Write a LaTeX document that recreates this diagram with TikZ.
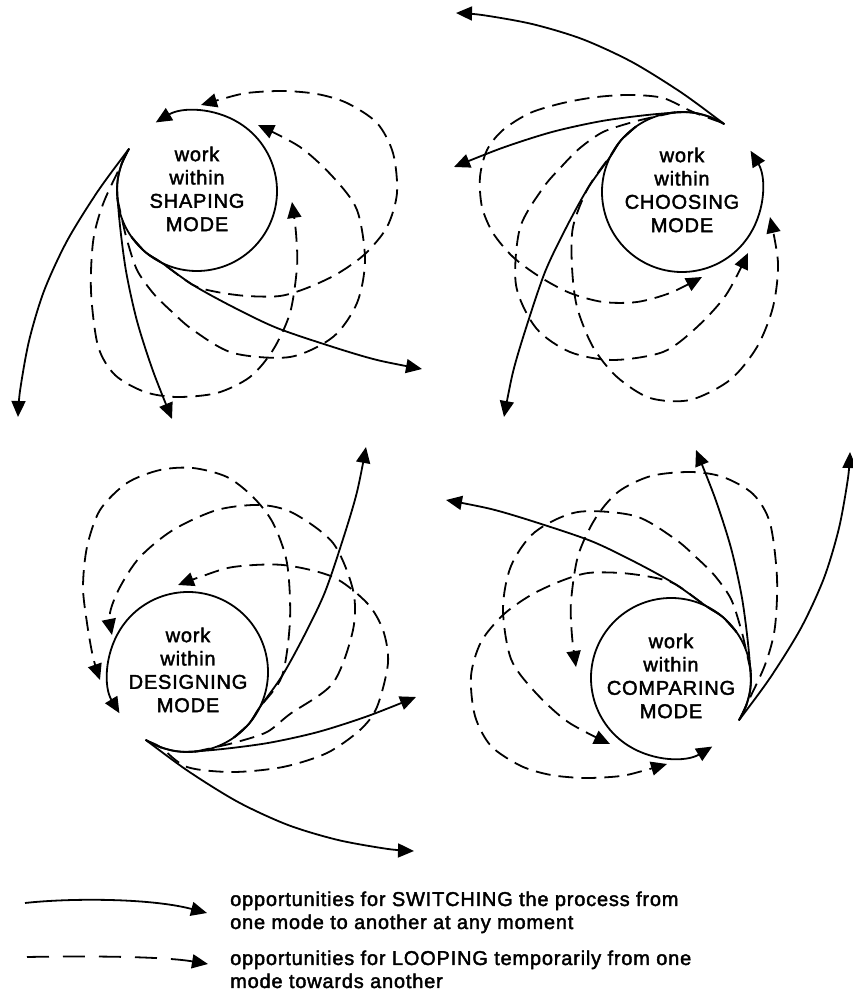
\documentclass[tikz,border=0pt]{standalone}
\usepackage{fontspec}
\setmainfont{Liberation Sans}
\newfontfamily\labfont[LetterSpace=4,FakeBold=2]{Liberation Sans}
\usetikzlibrary{arrows.meta}
\tikzset{
  sw/.style={line width=1.8pt, line join=round, -{Triangle[length=16pt,width=14pt]}},
  lp/.style={sw, dash pattern=on 15pt off 8pt},
  lglp/.style={sw, dash pattern=on 22pt off 14pt},
  modelabel/.style={font={\labfont\fontsize{20}{23.3}\selectfont}, align=center, inner sep=0pt},
  legendtext/.style={font={\labfont\fontsize{20}{23}\selectfont}, anchor=base west, inner sep=0pt},
  screen/.style={shift={(0,1002)}, yscale=-1},
}
% circle and switching connectors, relative to the circle centre
\newcommand\modecore{%
  \draw[sw] (148:80pt) arc[start angle=148, end angle=481, radius=80pt];
  \draw[sw] plot[smooth] coordinates {(-67.8,42.4) (-99,0) (-130,-50) (-153,-100) (-168,-150) (-177,-200) (-179,-226)};
  \draw[sw] plot[smooth] coordinates {(-67.8,42.4) (-75.2,27.4) (-79.7,7) (-77.5,-30) (-71,-80) (-60,-130) (-44,-180) (-25,-228)};
  \draw[sw] plot[smooth] coordinates {(-65.5,-45.9) (-51.4,-61.3) (-35.1,-71.9) (-4,-94) (36,-116) (80,-137) (136,-156) (180,-169) (225,-178)};
}
% looping connectors, relative to the circle centre
\newcommand\loopA{\draw[lp] plot[smooth] coordinates {(-65.5,-45.9) (-51.4,-61.3) (-35.1,-71.9) (-4,-94) (20,-101) (50,-105) (83,-105) (110,-97) (140,-83) (168,-63) (190,-36) (200,-2) (196,38) (180,68) (150,88) (120,97) (86,100) (50,98) (25,92) (4,86)};}
\newcommand\loopB{\draw[lp] plot[smooth] coordinates {(-79.7,-7) (-75.2,-27.4) (-70,-49) (-60,-79) (-44,-102) (-27,-119) (-4,-139) (36,-162) (93,-166) (136,-146) (160,-112) (168,-69) (160,-19) (136,14) (103,44) (61,66)};}
\newcommand\loopC{\draw[lp] plot[smooth] coordinates {(-69.3,40) (-75.2,27.4) (-93.7,-12.3) (-103.7,-49) (-106,-100) (-99,-155) (-82,-184) (-52,-201) (-20,-206) (20,-202) (53,-186) (76,-159) (93,-122) (100,-76) (99,-42) (95,-11)};}
\begin{document}
\begin{tikzpicture}[x=1pt,y=1pt]
\fill[white] (0,0) rectangle (852,1002);
\useasboundingbox (0,0) rectangle (852,1002);

% SHAPING
\begin{scope}[shift={(197,811)}] \modecore \loopA \loopB \loopC \end{scope}
% CHOOSING
\begin{scope}[shift={(682,810)}, rotate=-90] \modecore \loopB \end{scope}
\begin{scope}[screen]
  \draw[lp] plot[smooth] coordinates {(722,122.7) (693,112) (663,98) (630,95) (597,97) (563,103) (530,113) (503,130) (487,150) (480,177) (482,207) (493,233) (513,257) (540,277) (570,293) (603,302) (637,302) (670,293) (702,277)};
  \draw[lp] plot[smooth] coordinates {(636,126.5) (620.7,140.6) (611.4,154.4) (588,188) (573,227) (572,267) (577,307) (593,347) (617,377) (650,398) (690,400) (730,380) (757,347) (773,307) (778,263) (770,217)};
\end{scope}
% DESIGNING
\begin{scope}[shift={(188,330)}, rotate=90] \modecore \end{scope}
\begin{scope}[screen]
  \draw[lp] plot[smooth] coordinates {(148,741.3) (160.6,747.2) (187,767) (233,772) (283,767) (327,753) (360,730) (377,707) (388,663) (383,630) (367,603) (333,577) (283,565) (233,567) (200,577) (178,585)};
  \draw[lp] plot[smooth] coordinates {(195,751.7) (215.4,747.2) (237,742) (267,732) (290,714) (333,683) (353,630) (353,590) (333,543) (293,513) (260,505) (217,510) (173,530) (140,557) (120,587) (110,613) (112,635)};
  \draw[lp] plot[smooth] coordinates {(233.9,737.5) (249.3,723.4) (259.9,707.1) (282,676) (290,620) (287,563) (273,523) (253,497) (227,477) (193,468) (160,470) (127,483) (100,510) (87,547) (83,587) (87,623) (93,657) (100,680)};
\end{scope}
% COMPARING
\begin{scope}[shift={(671,324)}, rotate=180] \modecore \loopA \loopB \loopC \end{scope}

\node[modelabel] (shaping) at (197,813) {work\\within\\SHAPING\\MODE};
\node[modelabel] (choosing) at (682,812) {work\\within\\CHOOSING\\MODE};
\node[modelabel] (designing) at (188,332) {work\\within\\DESIGNING\\MODE};
\node[modelabel] (comparing) at (671,326) {work\\within\\COMPARING\\MODE};

% legend
\coordinate (s0) at (25,99);
\coordinate (s1) at (207,89);
\coordinate (d0) at (27,45);
\coordinate (d1) at (208,38);
\draw[sw] (s0) .. controls (70,104) and (150,104) .. (s1);
\draw[lglp] (d0) .. controls (80,46) and (160,46) .. (d1);
\node[legendtext] (l1) at (230,96) {opportunities for SWITCHING the process from};
\node[legendtext] (l2) at (230,73) {one mode to another at any moment};
\node[legendtext] (l3) at (230,37) {opportunities for LOOPING temporarily from one};
\node[legendtext] (l4) at (230,14) {mode towards another};
\end{tikzpicture}
\end{document}
